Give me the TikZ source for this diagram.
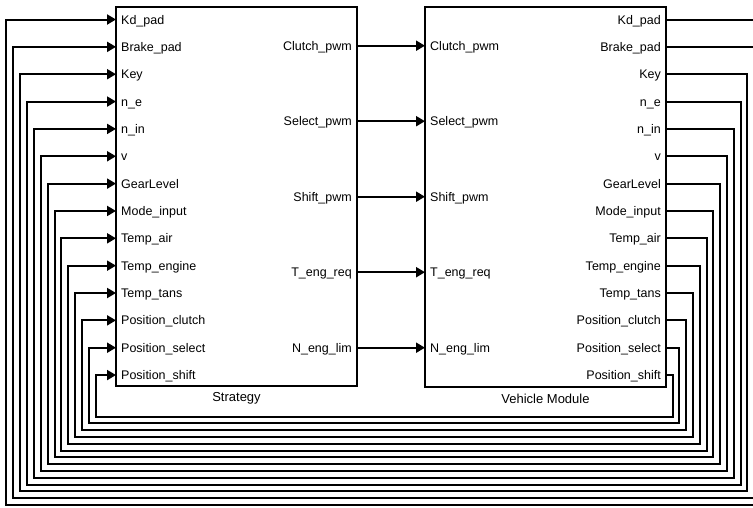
\documentclass[tikz,border=0pt]{standalone}
\usepackage{fontspec}
\setmainfont{Liberation Sans}
\usetikzlibrary{arrows.meta}
\begin{document}
\begin{tikzpicture}[x=1pt,y=-1pt,line join=miter,
  block/.style={draw,line width=2pt,inner sep=0pt,outer sep=0pt,anchor=north west},
  port/.style={font=\fontsize{12.5}{15}\selectfont,inner sep=0pt},
  title/.style={font=\fontsize{13}{15}\selectfont,inner sep=0pt,anchor=base},
  wire/.style={line width=2pt,-{Triangle[length=9pt,width=10pt]}},
  fb/.style={line width=2pt,-{Triangle[length=9pt,width=10pt]}}]
\useasboundingbox (0,0) rectangle (753,507);
\clip (0,0) rectangle (753,507);
\fill[white] (0,0) rectangle (753,507);
% blocks
\node[block,minimum width=241pt,minimum height=379pt] (S) at (116,7) {};
\node[block,minimum width=241pt,minimum height=380pt] (V) at (425,7) {};
\node[title] (St) at (236.5,401.5) {Strategy};
\node[title] (Vt) at (545.5,403) {Vehicle Module};
% feedback ports
\foreach \t [count=\i from 0] in {Kd\_pad,Brake\_pad,Key,n\_e,n\_in,v,GearLevel,Mode\_input,Temp\_air,Temp\_engine,Temp\_tans,Position\_clutch,Position\_select,Position\_shift}{
  \pgfmathsetmacro\yy{19.5+27.35*\i}
  \coordinate (si\i) at (116,\yy);
  \coordinate (vo\i) at (666,\yy);
  \node[port,anchor=base west] (sl\i) at (121,\yy+4.5) {\t};
  \node[port,anchor=base east] (vl\i) at (661,\yy+4.5) {\t};
}
\foreach \i in {0,...,13}{
  \pgfmathsetmacro\lx{6+6.93*\i}
  \pgfmathsetmacro\by{505-6.8*\i}
  \pgfmathsetmacro\rx{761-6.8*\i}
  \draw[fb] (vo\i) -| (\rx,\by) -- (\lx,\by) |- (si\i);
}
% forward signals
\foreach \t [count=\j from 0] in {Clutch\_pwm,Select\_pwm,Shift\_pwm,T\_eng\_req,N\_eng\_lim}{
  \pgfmathsetmacro\yy{45.7+75.5*\j}
  \coordinate (so\j) at (357,\yy);
  \coordinate (vi\j) at (425,\yy);
  \node[port,anchor=base east] (ol\j) at (352,\yy+4.5) {\t};
  \node[port,anchor=base west] (il\j) at (430,\yy+4.5) {\t};
  \draw[wire] (so\j) -- (vi\j);
}
\end{tikzpicture}
\end{document}
